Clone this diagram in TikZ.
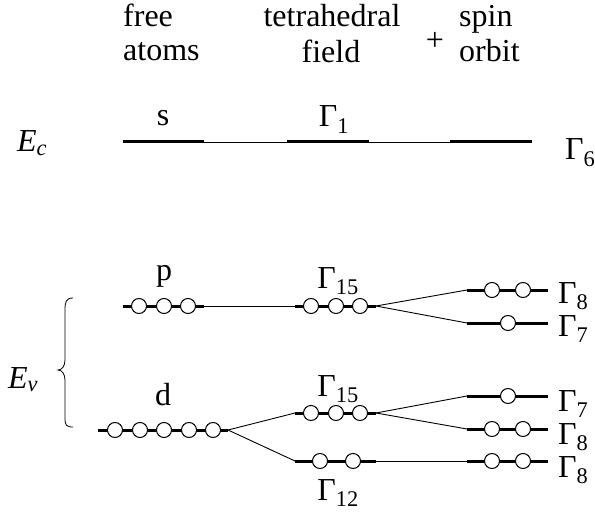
\documentclass[tikz,border=0pt]{standalone}
\usepackage{fontspec}
\setmainfont{Liberation Serif}
\usepackage{tikz}
\usetikzlibrary{positioning}

\newcommand\Gam[1]{Γ\textsubscript{#1}}

\begin{document}
\begin{tikzpicture}[x=1pt,y=-1pt,
  font=\fontsize{32}{36}\selectfont,
  lev/.style={line width=3pt},
  link/.style={line width=0.9pt},
  orb/.style={circle,draw,fill=white,line width=1pt,minimum size=15pt,inner sep=0pt},
  lab/.style={anchor=base,inner sep=0pt},
  rlab/.style={anchor=base west,inner sep=0pt}]

\useasboundingbox (0,0) rectangle (595,516);

% Headings
\node[rlab] (hfree) at (123,27) {free};
\node[rlab] (hatoms) at (123,61) {atoms};
\node[lab] (htetra) at (332,27) {tetrahedral};
\node[lab] (hfield) at (331,63) {field};
\node[inner sep=0pt] (hplus) at (435,41) {+};
\node[rlab] (hspin) at (459,27) {spin};
\node[rlab] (horbit) at (459,62) {orbit};

% level end points
\coordinate (sL) at (123,142);   \coordinate (sR) at (204,142);
\coordinate (g1L) at (287,142);  \coordinate (g1R) at (369,142);
\coordinate (g6L) at (450,142);  \coordinate (g6R) at (532,142);
\coordinate (pL) at (123,306);   \coordinate (pR) at (204,306);
\coordinate (dL) at (98,430);    \coordinate (dR) at (228,430);
\coordinate (g15aL) at (295,306); \coordinate (g15aR) at (376,306);
\coordinate (g15bL) at (295,413); \coordinate (g15bR) at (376,413);
\coordinate (g12L) at (295,461); \coordinate (g12R) at (376,461);
\coordinate (g8aL) at (467,290); \coordinate (g8aR) at (548,290);
\coordinate (g7aL) at (467,323); \coordinate (g7aR) at (548,323);
\coordinate (g7bL) at (467,396); \coordinate (g7bR) at (548,396);
\coordinate (g8bL) at (467,429); \coordinate (g8bR) at (548,429);
\coordinate (g8cL) at (467,461); \coordinate (g8cR) at (548,461);

% thin links
\draw[link] (sR) -- (g1L);
\draw[link] (g1R) -- (g6L);
\draw[link] (pR) -- (g15aL);
\draw[link] (g15aR) -- (g8aL);
\draw[link] (g15aR) -- (g7aL);
\draw[link] (dR) -- (g15bL);
\draw[link] (dR) -- (g12L);
\draw[link] (g15bR) -- (g7bL);
\draw[link] (g15bR) -- (g8bL);
\draw[link] (g12R) -- (g8cL);

% levels
\foreach \n in {s,g1,g6,p,d,g15a,g15b,g12,g8a,g7a,g7b,g8b,g8c}
  \draw[lev] (\n L) -- (\n R);

% orbitals
\foreach \x [count=\i] in {139,164,188} \node[orb] (p\i) at (\x,306) {};
\foreach \x [count=\i] in {115,140,164,189,213} \node[orb] (d\i) at (\x,430) {};
\foreach \x [count=\i] in {311,336,360} \node[orb] (ga\i) at (\x,306) {};
\foreach \x [count=\i] in {311,336,360} \node[orb] (gb\i) at (\x,413) {};
\foreach \x [count=\i] in {320,353} \node[orb] (gc\i) at (\x,461) {};
\foreach \x [count=\i] in {492,523} \node[orb] (e\i) at (\x,290) {};
\node[orb] (f1) at (508,323) {};
\node[orb] (h1) at (508,396) {};
\foreach \x [count=\i] in {492,523} \node[orb] (k\i) at (\x,429) {};
\foreach \x [count=\i] in {492,523} \node[orb] (m\i) at (\x,461) {};

% level labels
\node[lab] (ls) at (163,126) {s};
\node[lab] (lg1) at (334,127) {\Gam{1}};
\node[lab] (lp) at (164,280) {p};
\node[lab] (lg15a) at (338,288) {\Gam{15}};
\node[lab] (ld) at (163,405) {d};
\node[lab] (lg15b) at (338,396) {\Gam{15}};
\node[lab] (lg12) at (338,500) {\Gam{12}};
\node[rlab] (lg6) at (565,160) {\Gam{6}};
\node[rlab] (lg8a) at (558,303) {\Gam{8}};
\node[rlab] (lg7a) at (558,336) {\Gam{7}};
\node[rlab] (lg7b) at (558,411) {\Gam{7}};
\node[rlab] (lg8b) at (558,444) {\Gam{8}};
\node[rlab] (lg8c) at (558,477) {\Gam{8}};

% band edges
\node[rlab] (ec) at (17,152) {\textit{E}\textsubscript{\textit{c}}};
\node[rlab] (ev) at (8,388) {\textit{E}\textsubscript{\textit{v}}};

% brace
\draw[line width=0.8pt] (73,298) .. controls (66,298) and (65,302) .. (65,310)
  -- (65,360) .. controls (65,366) and (62,370) .. (58,370)
  .. controls (62,370) and (65,374) .. (65,380)
  -- (65,418) .. controls (65,425) and (66,427) .. (73,427);

\end{tikzpicture}
\end{document}
